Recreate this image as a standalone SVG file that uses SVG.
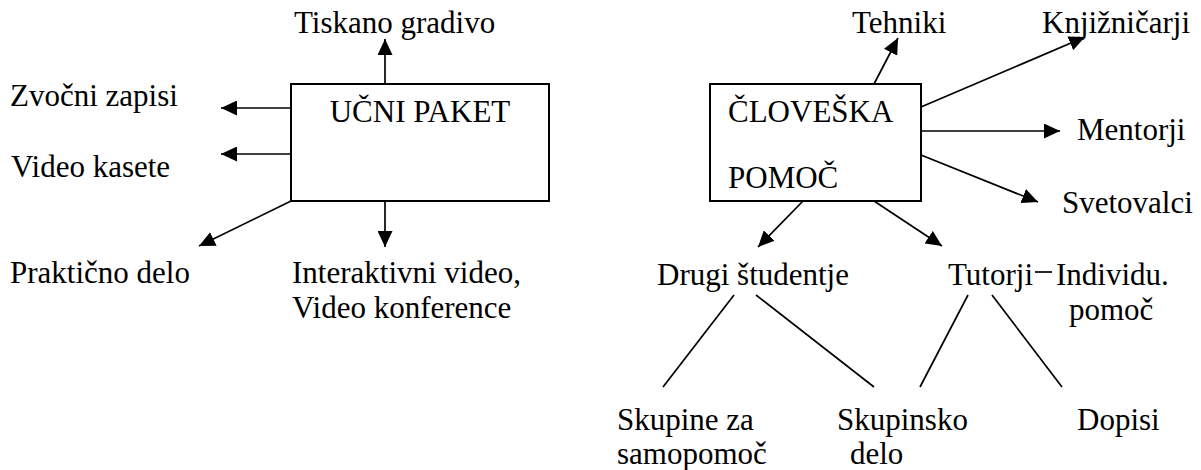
<svg xmlns="http://www.w3.org/2000/svg" width="1201" height="470" viewBox="0 0 1201 470" font-family="'Liberation Serif', 'Times New Roman', Tinos, 'DejaVu Serif', serif">
<style>
text{font-family:'Liberation Serif','Times New Roman',Tinos,'DejaVu Serif',serif;font-size:31px;fill:#000}
.box{fill:#fff;stroke:#000;stroke-width:2}
.ln{stroke:#000;stroke-width:1.7;fill:none}
.ar{marker-end:url(#ah)}
</style>
<defs>
<marker id="ah" markerUnits="userSpaceOnUse" markerWidth="16" markerHeight="15" viewBox="0 0 16 15" refX="16" refY="7.5" orient="auto">
<path d="M0,0 L16,7.5 L0,15 z" fill="#000"/>
</marker>
</defs>
<g id="connectors">
<line class="ln ar" x1="385" y1="84" x2="385" y2="39"/>
<line class="ln ar" x1="291" y1="108" x2="221" y2="108"/>
<line class="ln ar" x1="291" y1="154" x2="221" y2="154"/>
<line class="ln ar" x1="291" y1="201" x2="199" y2="246"/>
<line class="ln ar" x1="385" y1="201" x2="385" y2="247"/>
<line class="ln ar" x1="874" y1="84" x2="898" y2="38"/>
<line class="ln ar" x1="921" y1="107" x2="1085" y2="37"/>
<line class="ln ar" x1="921" y1="131" x2="1060" y2="131"/>
<line class="ln ar" x1="921" y1="155" x2="1038" y2="202"/>
<line class="ln ar" x1="803" y1="201" x2="758" y2="247"/>
<line class="ln ar" x1="874" y1="201" x2="942" y2="246"/>
<line class="ln" x1="734" y1="295" x2="663" y2="387"/>
<line class="ln" x1="756" y1="295" x2="874" y2="387"/>
<line class="ln" x1="968" y1="295" x2="920" y2="387"/>
<line class="ln" x1="992" y1="295" x2="1062" y2="387"/>
<line class="ln" x1="1035" y1="272" x2="1052" y2="272"/>
</g>
<g id="ucni-paket">
<rect class="box" x="291" y="84" width="258" height="117"/>
<text x="420" y="122" text-anchor="middle">UČNI PAKET</text>
</g>
<g id="tiskano-gradivo"><text x="294" y="33">Tiskano gradivo</text></g>
<g id="zvocni-zapisi"><text x="10" y="106">Zvočni zapisi</text></g>
<g id="video-kasete"><text x="11" y="177">Video kasete</text></g>
<g id="prakticno-delo"><text x="10" y="283">Praktično delo</text></g>
<g id="interaktivni-video">
<text x="292" y="283">Interaktivni video,</text>
<text x="292" y="318">Video konference</text>
</g>
<g id="cloveska-pomoc">
<rect class="box" x="710" y="84" width="211" height="117"/>
<text x="728" y="122">ČLOVEŠKA</text>
<text x="728" y="188">POMOČ</text>
</g>
<g id="tehniki"><text x="852" y="33">Tehniki</text></g>
<g id="knjiznicarji"><text x="1042" y="33">Knjižničarji</text></g>
<g id="mentorji"><text x="1077" y="140">Mentorji</text></g>
<g id="svetovalci"><text x="1062" y="213">Svetovalci</text></g>
<g id="drugi-studentje"><text x="657" y="285">Drugi študentje</text></g>
<g id="tutorji"><text x="948" y="285">Tutorji</text></g>
<g id="individu-pomoc">
<text x="1056" y="285">Individu.</text>
<text x="1069" y="320">pomoč</text>
</g>
<g id="skupine-za-samopomoc">
<text x="617" y="430">Skupine za</text>
<text x="617" y="464">samopomoč</text>
</g>
<g id="skupinsko-delo">
<text x="837" y="430">Skupinsko</text>
<text x="850" y="464">delo</text>
</g>
<g id="dopisi"><text x="1077" y="430">Dopisi</text></g>
</svg>
